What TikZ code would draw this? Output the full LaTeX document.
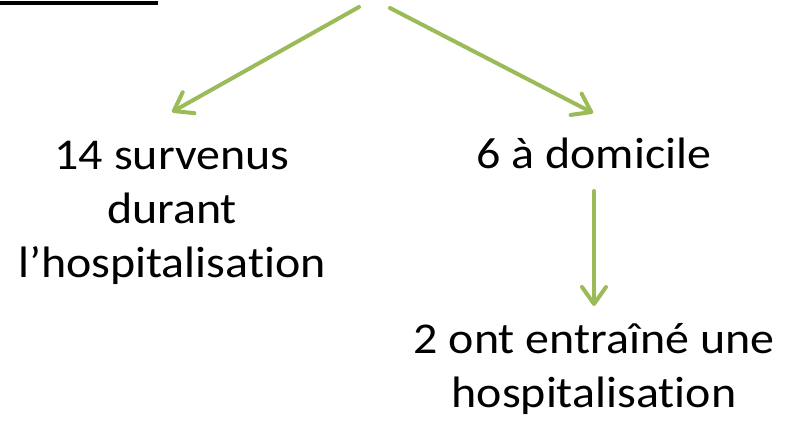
\documentclass[tikz,border=0pt]{standalone}
\usepackage{fontspec}
\setmainfont{Carlito}[Ligatures={NoCommon},FakeStretch=1.09]
\usetikzlibrary{arrows.meta,calc}
\definecolor{leafgreen}{RGB}{155,187,89}
\begin{document}
\begin{tikzpicture}[x=1pt,y=-1pt,
  lbl/.style={align=center,inner sep=0pt,font=\fontsize{44}{54}\selectfont},
  arr/.style={draw=leafgreen,line width=4pt,line cap=round,-{Straight Barb[length=17pt,width=24pt,round]}}]
\useasboundingbox (0,0) rectangle (795,429);
\coordinate (r0) at (0,2.5);
\coordinate (r1) at (158,2.5);
\draw[line width=4pt] (r0) -- (r1);
\node[lbl,anchor=base] (n1) at (172,277) {14 survenus\\durant\\l’hospitalisation};
\node[lbl,anchor=base] (n2) at (594,168) {6 à domicile};
\node[lbl,anchor=base] (n3) at (594,407) {2 ont entraîné une\\hospitalisation};
\coordinate (s1) at (359,7);
\coordinate (s2) at (390,8);
\draw[arr] (s1) -- ($(n1.base)+(0,-165)$);
\draw[arr] (s2) -- ($(n2.base)+(-1,-55)$);
\draw[arr] ($(n2.base)+(0,23)$) -- ($(n3.base)+(0,-101)$);
\end{tikzpicture}
\end{document}
